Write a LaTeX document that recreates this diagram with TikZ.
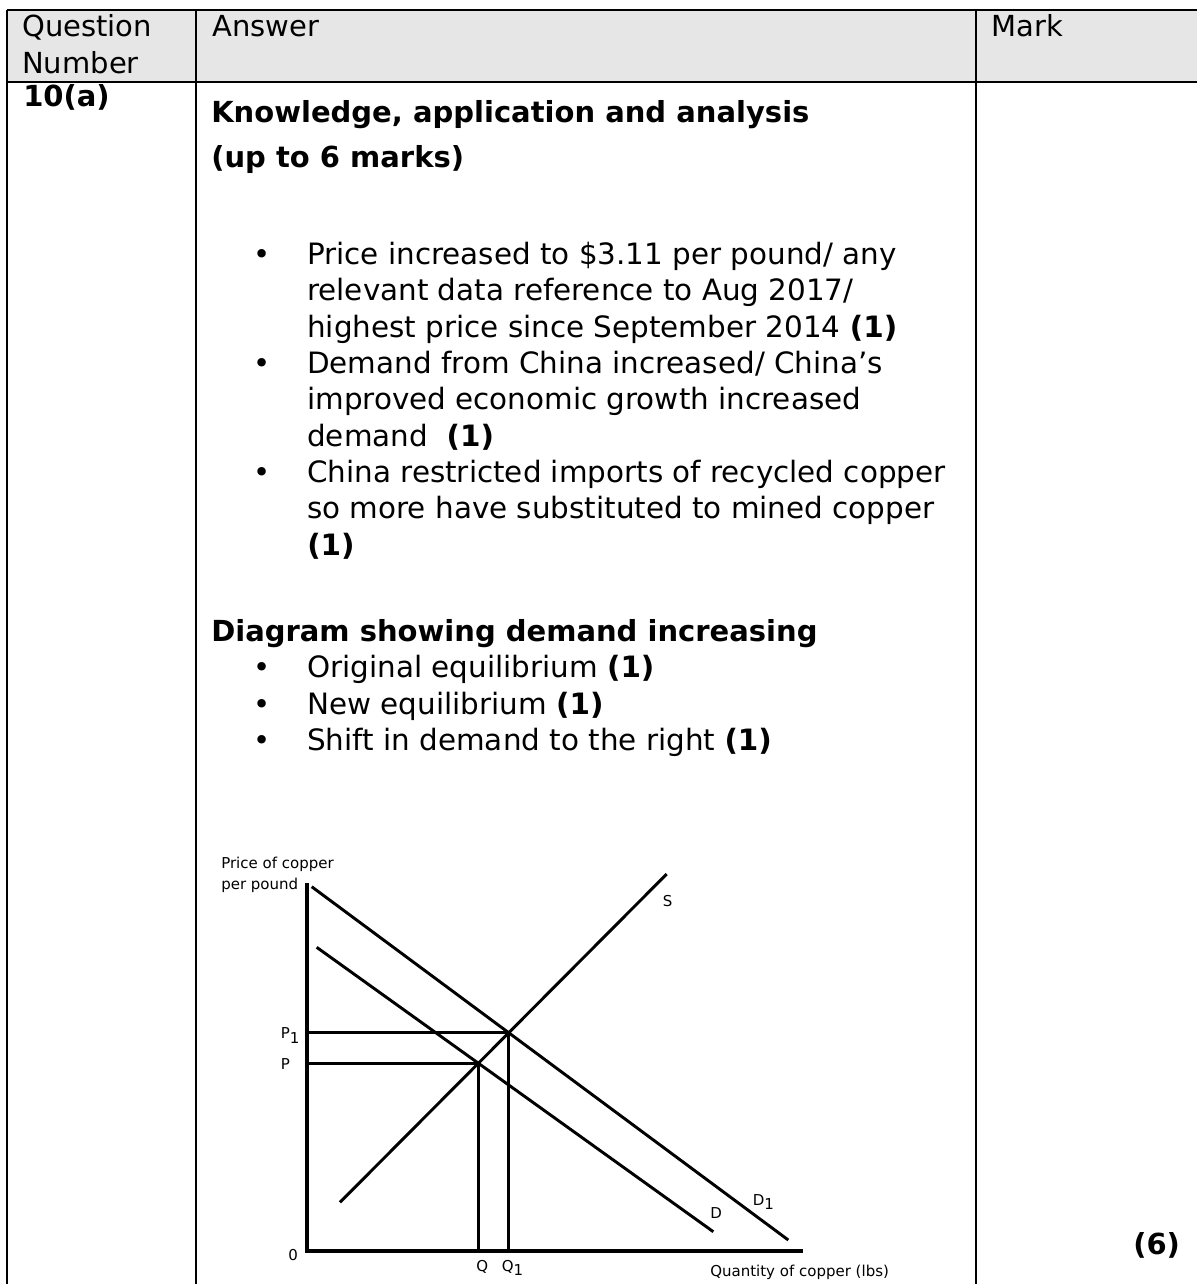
\documentclass[tikz,border=0pt]{standalone}
\usepackage{fontspec}
\setmainfont{DejaVu Sans}
\usepackage{tikz}
\definecolor{headGray}{RGB}{230,230,230}
\tikzstyle{headText}=[anchor = base west, inner sep = 0pt, font = \fontsize{21.75}{27.4}\selectfont]
\tikzstyle{cellText}=[anchor = base west, inner sep = 0pt, font = \fontsize{22.05}{27.4}\selectfont]
\tikzstyle{cellBold}=[cellText, font = \fontsize{21.75}{27.4}\selectfont\bfseries]
\tikzstyle{bulletMark}=[anchor = base, inner sep = 0pt, font = \fontsize{21.75}{27.4}\selectfont]
\tikzstyle{chartText}=[anchor = base west, inner sep = 0pt, font = \fontsize{11.25}{13.5}\selectfont]

\begin{document}
\begin{tikzpicture}[x = 0.75pt, y = -0.75pt]
\tikzstyle{ruleLine}=[line width = 2pt]
\tikzstyle{axisLine}=[line width = 3.3pt]
\tikzstyle{curveLine}=[line width = 2.2pt]
\tikzstyle{guideLine}=[line width = 2pt]
\useasboundingbox (0,0) rectangle (1197,1284);
% table
\fill[headGray] (7,10) rectangle (1197,82);
\draw[ruleLine] (7,10) -- (1197,10);
\draw[ruleLine] (7,82) -- (1197,82);
\draw[ruleLine] (7,10) -- (7,1284);
\draw[ruleLine] (196,10) -- (196,1284);
\draw[ruleLine] (976,10) -- (976,1284);
\node[headText] (hq) at (22,37) {Question};
\node[headText] (hn) at (22,74) {Number};
\node[headText] (ha) at (212,37) {Answer};
\node[headText] (hm) at (991,37) {Mark};
\node[cellBold] (q10) at (23,107) {10(a)};
\node[cellBold] (k1) at (211,123) {Knowledge, application and analysis};
\node[cellBold] (k2) at (211,167) {(up to 6 marks)};
% first list
\node[bulletMark] (b1) at (262,264) {•};
\node[cellText] (t1) at (307,264) {Price increased to \$3.11 per pound/ any};
\node[cellText] (t2) at (307,300) {relevant data reference to Aug 2017/};
\node[cellText] (t3) at (307,337) {highest price since September 2014 \textbf{(1)}};
\node[bulletMark] (b2) at (262,373) {•};
\node[cellText] (t4) at (307,373) {Demand from China increased/ China’s};
\node[cellText] (t5) at (307,409) {improved economic growth increased};
\node[cellText] (t6) at (307,446) {demand\ \ \textbf{(1)}};
\node[bulletMark] (b3) at (262,482) {•};
\node[cellText] (t7) at (307,482) {China restricted imports of recycled copper};
\node[cellText] (t8) at (307,518) {so more have substituted to mined copper};
\node[cellText] (t9) at (307,555) {\textbf{(1)}};
% second list
\node[cellBold] (dg) at (211,641) {Diagram showing demand increasing};
\node[bulletMark] (b4) at (262,677) {•};
\node[cellText] (u1) at (307,677) {Original equilibrium \textbf{(1)}};
\node[bulletMark] (b5) at (262,714) {•};
\node[cellText] (u2) at (307,714) {New equilibrium \textbf{(1)}};
\node[bulletMark] (b6) at (262,750) {•};
\node[cellText] (u3) at (307,750) {Shift in demand to the right \textbf{(1)}};
\node[cellBold] (mk) at (1133,1254) {(6)};
% chart
\coordinate (yTop) at (306.7,883);
\coordinate (org) at (306.7,1250.7);
\coordinate (xEnd) at (803.3,1250.7);
\coordinate (sLo) at (340,1202.3);
\coordinate (sHi) at (666.7,874);
\coordinate (dHi) at (316.7,947.3);
\coordinate (dLo) at (713.3,1231.7);
\coordinate (dOneHi) at (311.7,886.7);
\coordinate (dOneLo) at (788.3,1240);
\coordinate (e0) at (478.3,1063.3);
\coordinate (e1) at (508.3,1032.5);
\coordinate (p0) at (306.7,1063.3);
\coordinate (p1) at (306.7,1032.5);
\coordinate (q0) at (478.3,1250.7);
\coordinate (q1) at (508.3,1250.7);
\draw[curveLine] (sLo) -- (sHi);
\draw[curveLine] (dHi) -- (dLo);
\draw[curveLine] (dOneHi) -- (dOneLo);
\draw[guideLine] (p1) -- (e1) -- (q1);
\draw[guideLine] (p0) -- (e0) -- (q0);
\draw[axisLine] (yTop) -- (org) -- (xEnd);
\node[chartText] (ly1) at (221,868) {Price of copper};
\node[chartText] (ly2) at (221,889) {per pound};
\node[chartText] (lp1) at (280.5,1038.3) {P\raisebox{-0.6ex}{1}};
\node[chartText] (lp0) at (280.5,1069) {P};
\node[chartText] (lo) at (288,1260) {0};
\node[chartText] (lq0) at (476,1271) {Q};
\node[chartText] (lq1) at (501.5,1271) {Q\raisebox{-0.6ex}{1}};
\node[chartText] (ls) at (662.5,906) {S};
\node[chartText] (ld) at (710,1218) {D};
\node[chartText] (ld1) at (752.5,1205) {D\raisebox{-0.6ex}{1}};
\node[chartText] (lx) at (710,1276) {Quantity of copper (lbs)};
\end{tikzpicture}
\end{document}
